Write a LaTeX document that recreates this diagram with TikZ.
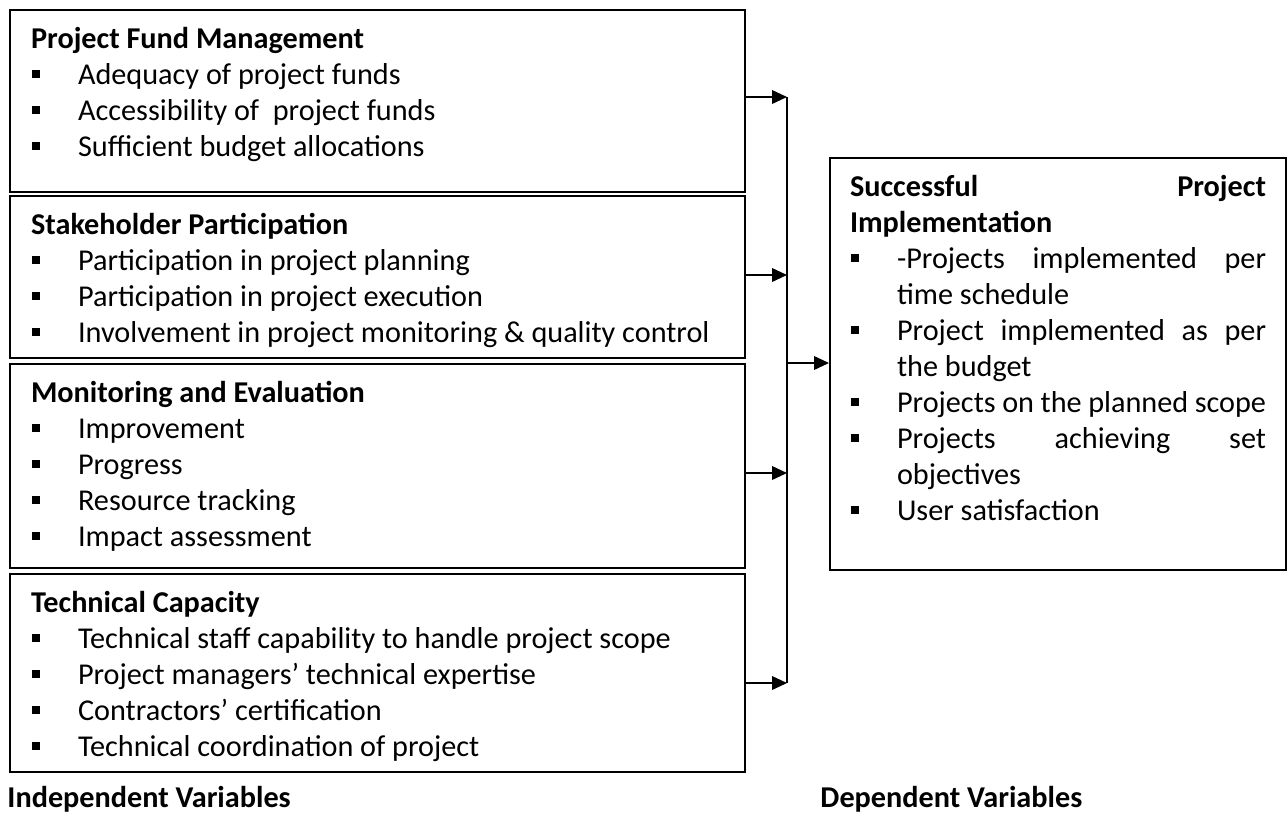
\documentclass[tikz,border=0pt]{standalone}
\usepackage{fontspec}
\setmainfont{Carlito}
\usetikzlibrary{arrows.meta}

\newlength\px
\setlength\px{0.43pt}
\newcommand\sqbullet{\rule[6.4\px]{7.6\px}{7.6\px}}
\newcommand\bitem[1]{\par\hangindent=47\px\hangafter=1\noindent\makebox[47\px][l]{\hspace{1\px}\sqbullet}#1}
\newcommand\head[1]{\noindent\rule{0pt}{38\px}\textbf{#1}}
\newcommand\boxtext[3]{\parbox[t][#1\px][t]{#2\px}{\fontsize{13}{15.5}\selectfont
  \hyphenpenalty=10000\tolerance=10000\parindent=0pt #3}}

\begin{document}
\begin{tikzpicture}[x=0.43pt,y=-0.43pt,
    arrow/.style={line width=0.8pt,-{Triangle[length=6.4pt,width=5.8pt]}}]
  \useasboundingbox (0,0) rectangle (1287,812);
  \begin{scope}[every node/.style={draw=black,line width=0.9pt,anchor=north west,inner xsep=21\px,inner ysep=0pt}]
    \node (fund) at (9,9) {\boxtext{182}{693}{\raggedright
      \head{Project Fund Management}
      \bitem{Adequacy of project funds}
      \bitem{Accessibility of\ \ project funds}
      \bitem{Sufficient budget allocations}}};
    \node (stake) at (9,195) {\boxtext{162}{693}{\raggedright
      \head{Stakeholder Participation}
      \bitem{Participation in project planning}
      \bitem{Participation in project execution}
      \bitem{Involvement in project monitoring \& quality control}}};
    \node (monit) at (9,363) {\boxtext{204}{693}{\raggedright
      \head{Monitoring and Evaluation}
      \bitem{Improvement}
      \bitem{Progress}
      \bitem{Resource tracking}
      \bitem{Impact assessment}}};
    \node (tech) at (9,573) {\boxtext{198}{693}{\raggedright
      \head{Technical Capacity}
      \bitem{Technical staff capability to handle project scope}
      \bitem{Project managers’ technical expertise}
      \bitem{Contractors’ certification}
      \bitem{Technical coordination of project}}};
    \node[inner xsep=20\px] (impl) at (829,157) {\boxtext{412}{416}{%
      \head{Successful Project Implementation}
      \bitem{-Projects implemented per time schedule}
      \bitem{Project implemented as per the budget}
      \bitem{Projects on the planned scope}
      \bitem{Projects achieving set objectives}
      \bitem{User satisfaction}}};
  \end{scope}
  \node[anchor=base west,inner sep=0pt] (indep) at (7,807) {\fontsize{13}{15.5}\selectfont\bfseries Independent Variables};
  \node[anchor=base west,inner sep=0pt] (dep) at (820,807) {\fontsize{13}{15.5}\selectfont\bfseries Dependent Variables};
  % collector line
  \coordinate (j1) at (787,97);
  \coordinate (j2) at (787,275);
  \coordinate (j3) at (787,473);
  \coordinate (j4) at (787,683);
  \coordinate (jm) at (787,363);
  \begin{scope}[line width=0.8pt]
    \draw[arrow] (fund.east |- j1) -- (j1);
    \draw[arrow] (stake.east |- j2) -- (j2);
    \draw[arrow] (monit.east |- j3) -- (j3);
    \draw[arrow] (tech.east |- j4) -- (j4);
    \draw (j1) -- (j4);
    \draw[arrow] (jm) -- (jm -| impl.west);
  \end{scope}
\end{tikzpicture}
\end{document}
